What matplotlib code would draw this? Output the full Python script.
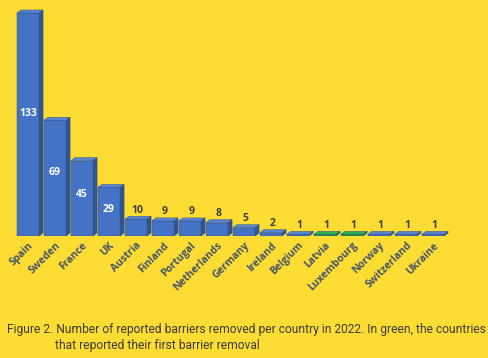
import matplotlib
matplotlib.use("Agg")
import matplotlib.pyplot as plt

countries = ["Spain", "Sweden", "France", "UK", "Austria", "Finland", "Portugal",
             "Netherlands", "Germany", "Ireland", "Belgium", "Latvia", "Luxembourg",
             "Norway", "Switzerland", "Ukraine"]
values = [133, 69, 45, 29, 10, 9, 9, 8, 5, 2, 1, 1, 1, 1, 1, 1]
first_removal = ["Latvia", "Luxembourg"]

BG = "#FDDC33"
BLUE = ("#4472C4", "#2F5597", "#5A84CE")
GREEN = ("#1E9E3E", "#13702A", "#2DB04E")

W, H = 488, 358
fig = plt.figure(figsize=(W / 100, H / 100), dpi=100, facecolor=BG)

px_per_cat = 27.0
px_per_unit = 1.677
x_lo, x_hi = -0.6, 15.7
base_px = 122.0
y_hi = 140
left_px = 28 - px_per_cat * (0 - x_lo)
ax = fig.add_axes([left_px / W, base_px / H, px_per_cat * (x_hi - x_lo) / W,
                   px_per_unit * y_hi / H])
ax.set_facecolor(BG)
ax.set_xlim(x_lo, x_hi)
ax.set_ylim(0, y_hi)

hw = 0.41
dx = 4.0 / px_per_cat
dy = 3.0 / px_per_unit
font = "Open Sans"

for i, (c, v) in enumerate(zip(countries, values)):
    front, side, top = GREEN if c in first_removal else BLUE
    ax.bar(i, v, width=2 * hw, color=front, edgecolor="#2B4A85", linewidth=0.3, zorder=3)
    ax.fill([i + hw, i + hw + dx, i + hw + dx, i + hw], [0, dy, v + dy, v],
            color=side, edgecolor="#22407A", linewidth=0.3, zorder=2)
    ax.fill([i - hw, i - hw + dx, i + hw + dx, i + hw], [v, v + dy, v + dy, v],
            color=top, edgecolor="#2B4A85", linewidth=0.3, zorder=4)
    if v >= 20:
        ax.text(i, v * 0.55, str(v), color="white", ha="center", va="center",
                fontsize=7.5, fontweight="bold", family=font, zorder=5)
    else:
        ax.text(i + 0.05, v + dy + 0.3, str(v), color="#404040", ha="center", va="bottom",
                fontsize=7.5, fontweight="bold", family=font, zorder=5)

ax.set_xticks(range(len(countries)))
ax.set_xticklabels(countries, rotation=45, ha="right", rotation_mode="anchor",
                   fontsize=7.4, fontweight="bold", color="#44546A", family=font)
ax.tick_params(axis="x", length=0, pad=3)
ax.set_yticks([])
for s in ax.spines.values():
    s.set_visible(False)

fig.text(7 / W, 1 - 330 / H, "Figure 2. Number of reported barriers removed per country in 2022. In green, the countries",
         fontsize=8.65, family="Roboto", color="#3A3A3A", ha="left", va="center")
fig.text(55 / W, 1 - 346 / H, "that reported their first barrier removal",
         fontsize=8.65, family="Roboto", color="#3A3A3A", ha="left", va="center")

fig.savefig("out.png", dpi=100, facecolor=BG)
